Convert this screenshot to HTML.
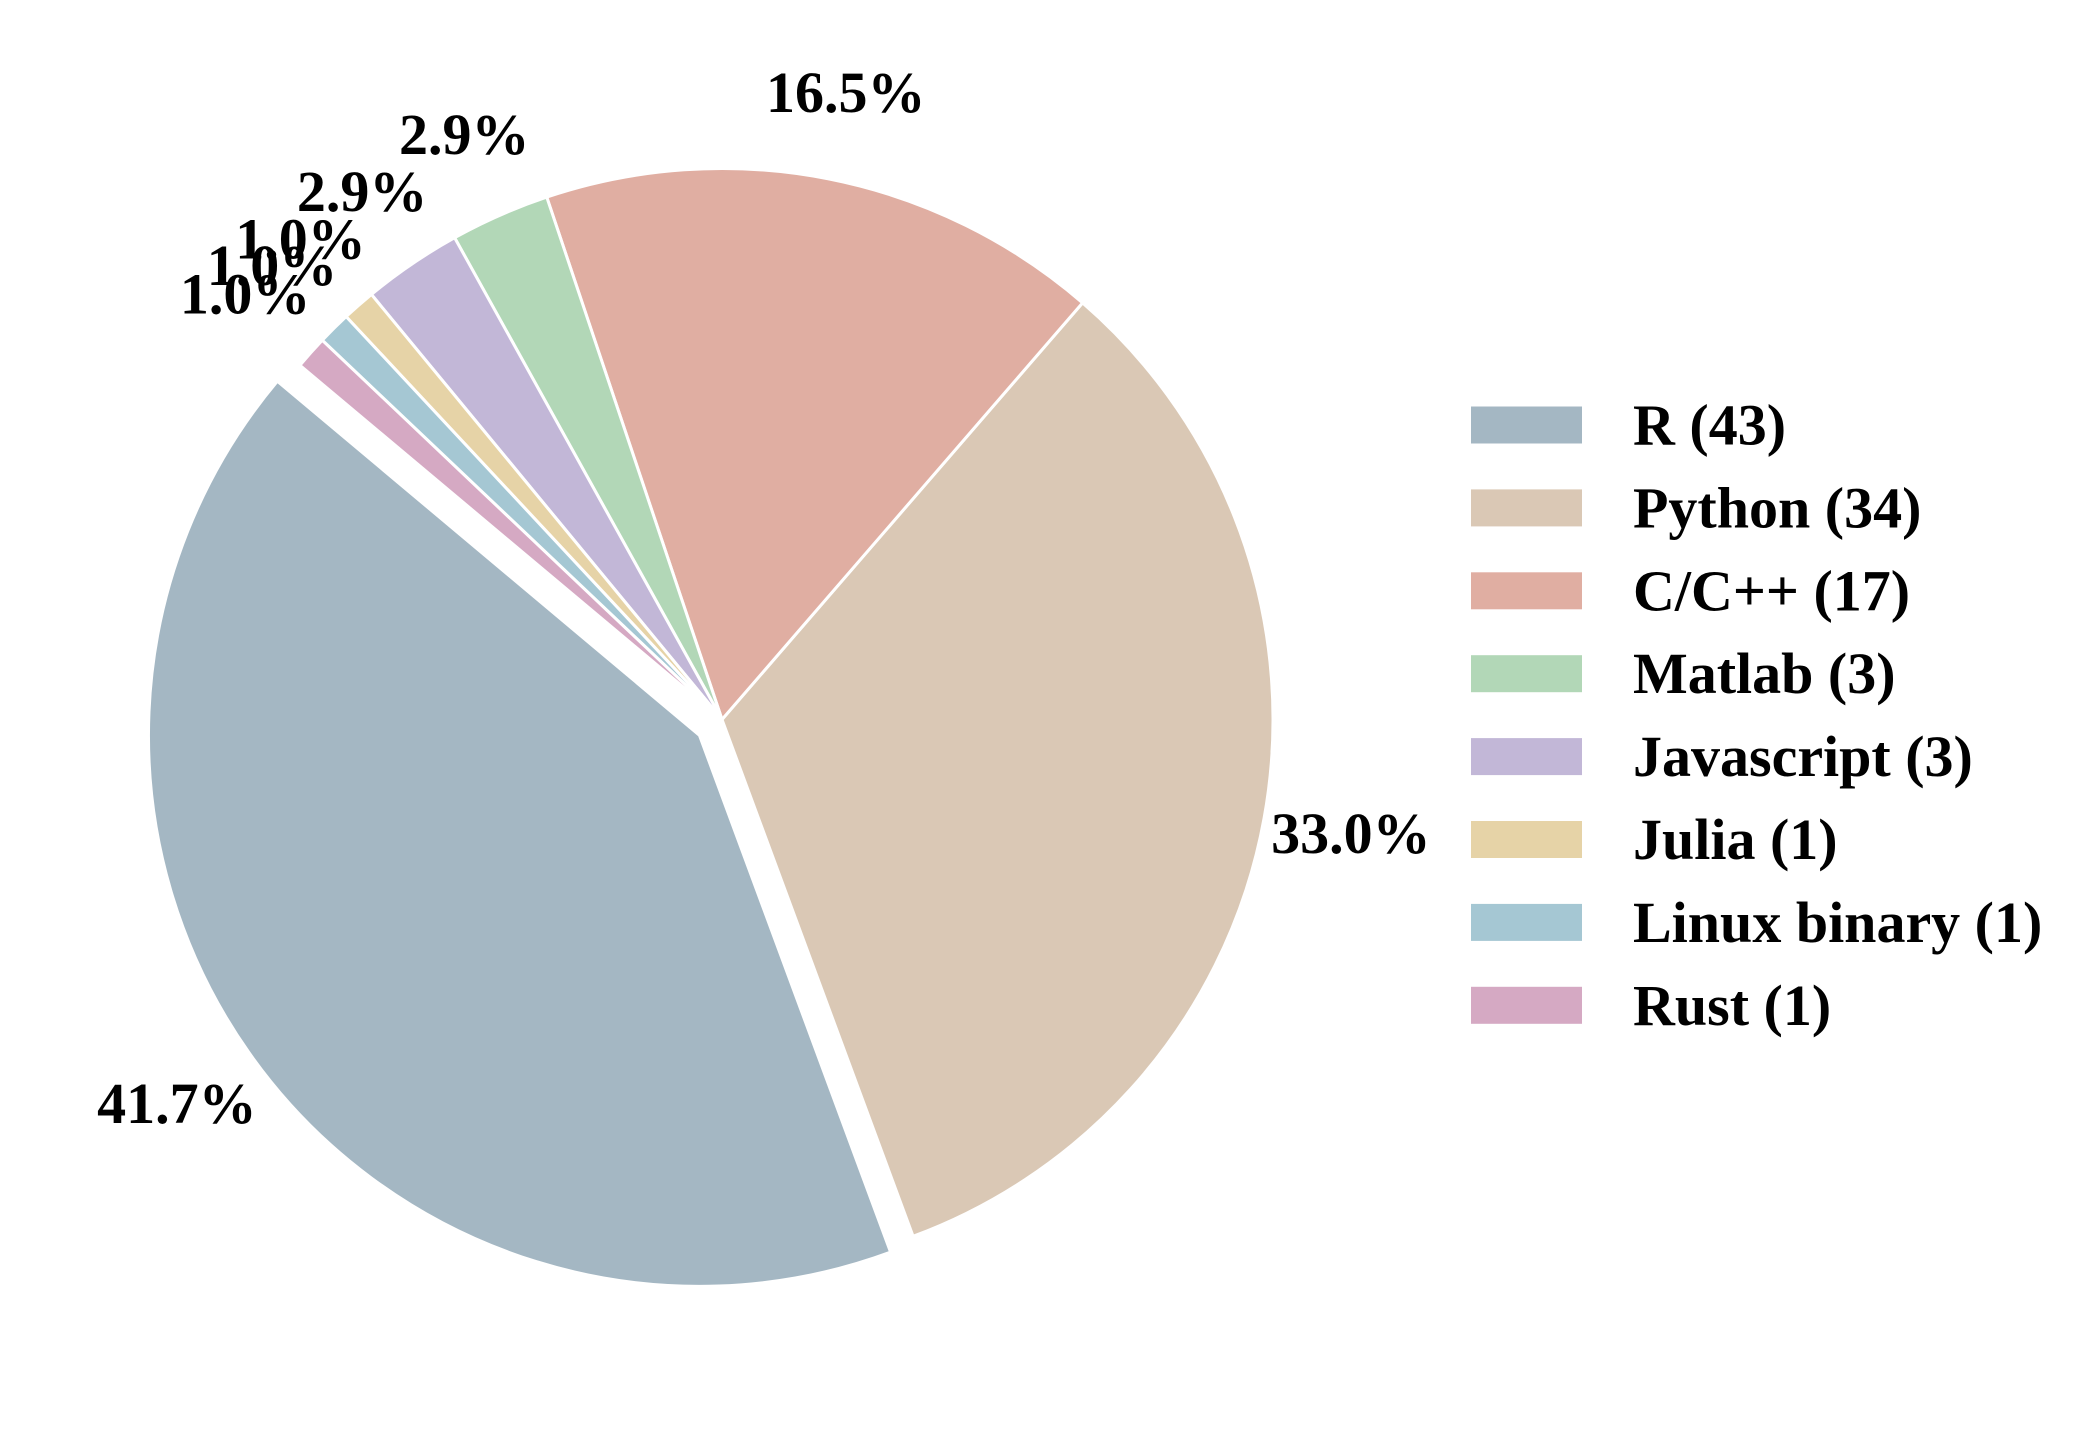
<!DOCTYPE html>
<html><head><meta charset="utf-8"><style>
html,body{margin:0;padding:0;background:#fff}
svg{display:block}
text{font-family:"Liberation Serif",serif;font-weight:bold;fill:#000}
</style></head><body>
<svg id="chart" width="2097" height="1446" viewBox="0 0 2097 1446" xmlns="http://www.w3.org/2000/svg">
<g id="slices"></g>
<g id="pcts"></g>
<g id="legend"></g>
</svg>
<script>
const categories = ["R","Python","C/C++","Matlab","Javascript","Julia","Linux binary","Rust"];
const counts = [43,34,17,3,3,1,1,1];
const colors = ["#a4b7c3","#dac8b5","#e0aea2","#b2d7b7","#c2b7d7","#e6d3a7","#a5c7d3","#d5a9c3"];
const explode = [0.05,0,0,0,0,0,0,0];
const NS="http://www.w3.org/2000/svg";
const cx=722, cy=719.5, r=551, startAngle=140, pctDist=1.16;
const total=counts.reduce((a,b)=>a+b,0);
const gS=document.getElementById('slices'), gP=document.getElementById('pcts'), gL=document.getElementById('legend');
let a0=startAngle;
counts.forEach((v,i)=>{
  const span=v/total*360, a1=a0+span, mid=(a0+a1)/2*Math.PI/180;
  const ox=cx+explode[i]*r*Math.cos(mid), oy=cy-explode[i]*r*Math.sin(mid);
  const p=(a)=>[ox+r*Math.cos(a*Math.PI/180), oy-r*Math.sin(a*Math.PI/180)];
  const s=p(a0), e=p(a1);
  const path=document.createElementNS(NS,'path');
  path.setAttribute('d',`M${ox},${oy}L${s[0]},${s[1]}A${r},${r} 0 ${span>180?1:0} 0 ${e[0]},${e[1]}Z`);
  path.setAttribute('fill',colors[i]);
  path.setAttribute('stroke','#fff');
  path.setAttribute('stroke-width','3');
  
  
  gS.appendChild(path);
  const t=document.createElementNS(NS,'text');
  t.setAttribute('x',ox+pctDist*r*Math.cos(mid));
  t.setAttribute('y',oy-pctDist*r*Math.sin(mid));
  t.setAttribute('text-anchor','middle');
  t.setAttribute('dominant-baseline','central');
  t.setAttribute('font-size','58');
  t.textContent=(v/total*100).toFixed(1)+'%';
  
  
  gP.appendChild(t);
  a0=a1;
});
categories.forEach((c,i)=>{
  const y=425+i*82.9;
  const rc=document.createElementNS(NS,'rect');
  rc.setAttribute('x',1471);rc.setAttribute('y',y-18.5);rc.setAttribute('width',111);rc.setAttribute('height',37);
  rc.setAttribute('fill',colors[i]);
  
  
  gL.appendChild(rc);
  const t=document.createElementNS(NS,'text');
  t.setAttribute('x',1633);t.setAttribute('y',y);
  t.setAttribute('dominant-baseline','central');
  t.setAttribute('font-size','58');
  t.textContent=c+' ('+counts[i]+')';
  
  
  gL.appendChild(t);
});
</script>
</body></html>
